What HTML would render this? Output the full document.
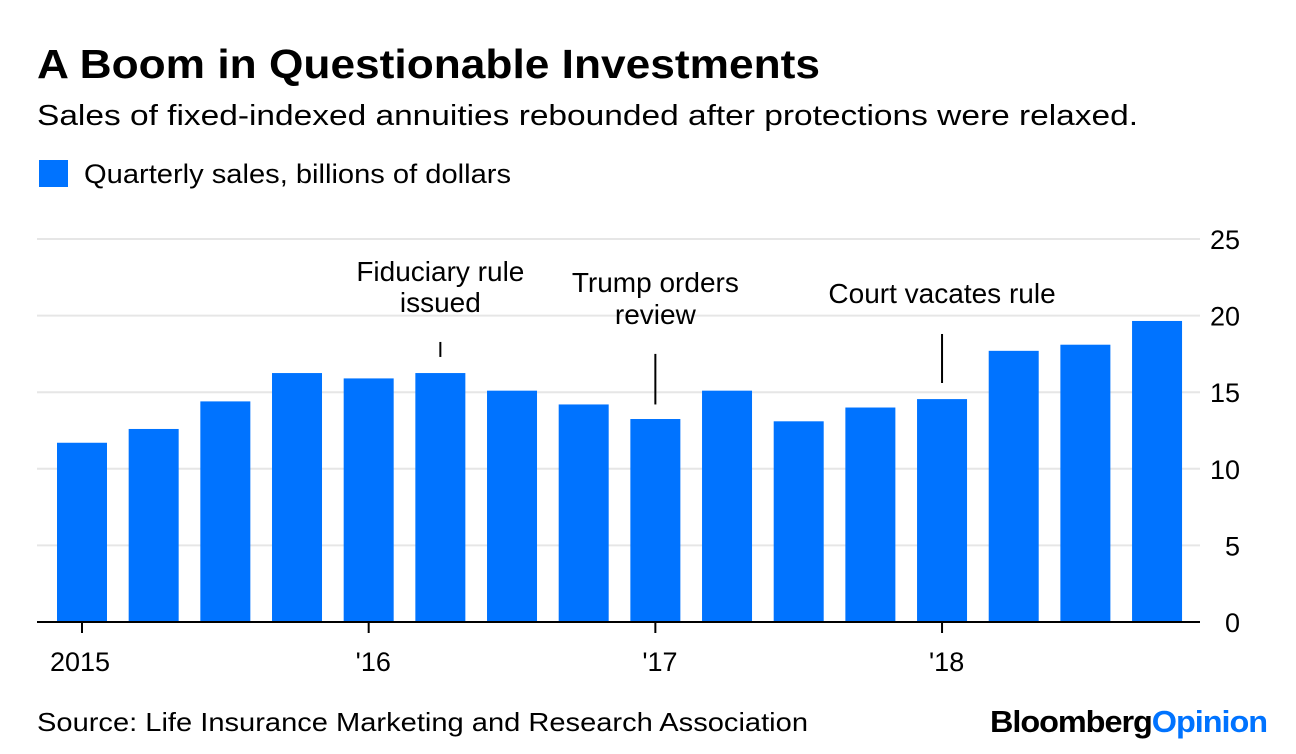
<!DOCTYPE html>
<html><head><meta charset="utf-8"><style>
html,body{margin:0;padding:0;background:#fff;width:1296px;height:754px;overflow:hidden}
svg{display:block;font-family:"Liberation Sans",Arial,sans-serif}
</style></head><body>
<svg id="chart" width="1296" height="754" viewBox="0 0 1296 754">
<text x="37" y="78" font-size="41" font-weight="bold" fill="#000" textLength="783" lengthAdjust="spacingAndGlyphs">A Boom in Questionable Investments</text>
<text x="37" y="125" font-size="29" fill="#000" textLength="1101" lengthAdjust="spacingAndGlyphs">Sales of fixed-indexed annuities rebounded after protections were relaxed.</text>
<rect x="39" y="160" width="29" height="27" fill="#0073ff"/>
<text x="84" y="183" font-size="27" fill="#000" textLength="427" lengthAdjust="spacingAndGlyphs">Quarterly sales, billions of dollars</text>
<g id="grid"></g>
<g id="bars"></g>
<g id="xaxis"></g>
<g id="annots"></g>
<text x="37" y="731" font-size="26" fill="#000" textLength="771" lengthAdjust="spacingAndGlyphs">Source: Life Insurance Marketing and Research Association</text>
<text x="990" y="732" font-size="31" font-weight="bold" textLength="277" lengthAdjust="spacingAndGlyphs" letter-spacing="-1"><tspan fill="#000">Bloomberg</tspan><tspan fill="#0073ff">Opinion</tspan></text>
</svg>
<script>
const values = [11.7, 12.6, 14.4, 16.25, 15.9, 16.25, 15.1, 14.2, 13.25, 15.1, 13.1, 14.0, 14.55, 17.7, 18.1, 19.65];
const yTicks = [0, 5, 10, 15, 20, 25];
const xLabels = ["2015", "'16", "'17", "'18"];
const xLabelIndex = [0, 4, 8, 12];
const annotations = ["Fiduciary rule|issued", "Trump orders|review", "Court vacates rule"];
const annotationIndex = [5, 8, 12];
const annotationTopValue = [18.28, 17.5, 18.8];
const annotationBottomValue = [17.3, 14.2, 15.6];

const NS = "http://www.w3.org/2000/svg";
const y0 = 622, pxPerUnit = 15.32;
const y = v => y0 - v * pxPerUnit;
const step = 71.67, barW = 50, x0 = 57;
const xc = i => x0 + i * step + barW / 2;
function mk(tag, attrs, parent, text) {
  const el = document.createElementNS(NS, tag);
  for (const k in attrs) el.setAttribute(k, attrs[k]);
  if (text !== undefined) el.textContent = text;
  parent.appendChild(el);
  return el;
}
const grid = document.getElementById('grid');
yTicks.forEach(t => {
  if (t > 0) {
    const l = mk('line', {x1: 37, x2: 1200, y1: y(t), y2: y(t), stroke: '#e6e6e6', 'stroke-width': 2}, grid);
    
    
  }
  const tx = mk('text', {x: 1240, y: y(t) + 10, 'font-size': 27, 'text-anchor': 'end', fill: '#000'}, grid, String(t));
  
  
});
const bars = document.getElementById('bars');
values.forEach((v, i) => {
  const r = mk('rect', {x: xc(i) - barW / 2, y: y(v), width: barW, height: y0 - y(v), fill: '#0073ff'}, bars);
  
  
});
const xa = document.getElementById('xaxis');
const base = mk('line', {x1: 37, x2: 1200, y1: y0, y2: y0, stroke: '#000', 'stroke-width': 2}, xa);


xLabels.forEach((lab, k) => {
  const cx = xc(xLabelIndex[k]);
  const t = mk('line', {x1: cx, x2: cx, y1: y0, y2: y0 + 11, stroke: '#000', 'stroke-width': 2}, xa);
  
  
  const tx = mk('text', {x: k === 0 ? 50 : cx - 13, y: 671, 'font-size': 27, 'text-anchor': 'start', fill: '#000'}, xa, lab);
  
  
});
const an = document.getElementById('annots');
const annotationTextY = [[281, 312], [292, 324], [303]];
annotations.forEach((a, k) => {
  const cx = xc(annotationIndex[k]);
  const lines = a.split('|');
  const l = mk('line', {x1: cx, x2: cx, y1: y(annotationTopValue[k]), y2: y(annotationBottomValue[k]), stroke: '#000', 'stroke-width': 2}, an);
  
  
  lines.forEach((ln, j) => {
    const tx = mk('text', {x: cx, y: annotationTextY[k][j], 'font-size': 28, 'text-anchor': 'middle', fill: '#000'}, an, ln);
    
    
  });
});
</script>
</body></html>
